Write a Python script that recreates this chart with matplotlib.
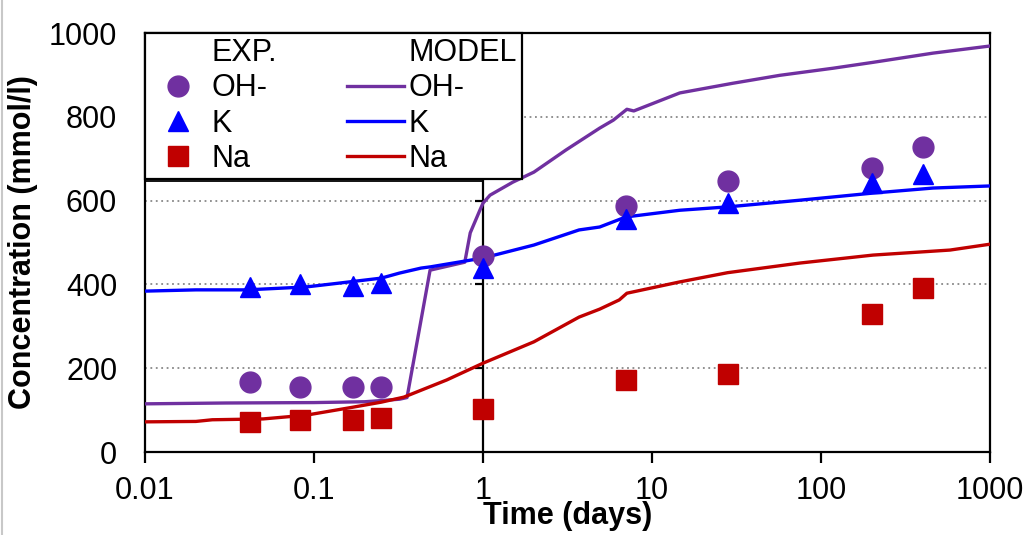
import matplotlib
matplotlib.use('Agg')
import matplotlib.pyplot as plt
import numpy as np
from matplotlib.lines import Line2D

plt.rcParams['font.family'] = ['Liberation Sans', 'DejaVu Sans']

# experimental points (days, mmol/l)
exp_time = [0.042, 0.083, 0.17, 0.25, 1, 7, 28, 200, 400]
exp_oh = [167, 155, 155, 155, 467, 587, 648, 678, 728]
exp_k = [394, 401, 396, 403, 439, 556, 594, 642, 663]
exp_na = [72, 76, 76, 81, 103, 172, 186, 330, 391]

# model curves
mod_oh_t = [0.01, 0.03, 0.1, 0.2, 0.32, 0.355, 0.486, 0.78, 0.84, 0.96, 1.0, 1.1, 1.5, 2.0,
            3.1, 4.9, 5.9, 7.1, 7.8, 14.6, 30, 57, 118, 203, 460, 1000]
mod_oh = [115, 117, 118, 120, 126, 130, 434, 453, 523, 578, 594, 613, 644, 668,
          721, 773, 792, 818, 814, 857, 880, 899, 916, 930, 952, 969]
mod_k_t = [0.01, 0.02, 0.04, 0.09, 0.14, 0.25, 0.32, 0.43, 0.49, 1.0, 2.0, 3.7, 4.9, 7.0,
           14.6, 28, 75, 203, 460, 1000]
mod_k = [384, 387, 387, 394, 403, 415, 427, 439, 442, 463, 494, 530, 537, 561,
         577, 585, 601, 618, 630, 635]
mod_na_t = [0.01, 0.02, 0.025, 0.05, 0.09, 0.17, 0.25, 0.34, 0.61, 1.0, 2.0, 3.7, 4.9, 6.4,
            7.1, 14.6, 28, 75, 203, 580, 1000]
mod_na = [72, 73, 77, 79, 88, 107, 119, 131, 172, 212, 263, 322, 341, 363,
          379, 406, 428, 451, 470, 482, 496]

x_ticks = [0.01, 0.1, 1, 10, 100, 1000]
x_labels = ['0.01', '0.1', '1', '10', '100', '1000']
y_ticks = [0, 200, 400, 600, 800, 1000]
grid_y = [200, 400, 600, 800]
box_y = 647  # stray plot-area frame line under the legend

c_oh = '#7030A0'
c_k = '#0000FF'
c_na = '#C00000'
fs = 22

fig = plt.figure(figsize=(10.3, 5.35), dpi=100)
ax = fig.add_axes([0.1408, 0.1551, 0.8204, 0.7832])

for g in grid_y:
    ax.axhline(g, color='#888888', lw=1.3, ls=(0, (1, 2)), zorder=1)

ax.axvline(1, color='black', lw=1.6, zorder=2)
ax.plot([1] * len(grid_y), grid_y, ls='none', marker=0, ms=6, mew=1.6,
        color='black', zorder=2)
ax.plot([0.01, 1], [box_y, box_y], color='black', lw=1.3, zorder=2)

ax.plot(mod_oh_t, mod_oh, color=c_oh, lw=2.4, zorder=3)
ax.plot(mod_k_t, mod_k, color=c_k, lw=2.4, zorder=3)
ax.plot(mod_na_t, mod_na, color=c_na, lw=2.4, zorder=3)

ax.plot(exp_time, exp_oh, ls='none', marker='o', ms=15, color=c_oh, zorder=4)
ax.plot(exp_time, exp_k, ls='none', marker='^', ms=14, color=c_k, zorder=4)
ax.plot(exp_time, exp_na, ls='none', marker='s', ms=14, color=c_na, zorder=4)

ax.set_xscale('log')
ax.set_xlim(0.01, 1000)
ax.set_ylim(0, 1000)
ax.set_xticks(x_ticks)
ax.set_xticklabels(x_labels)
ax.xaxis.set_minor_locator(matplotlib.ticker.NullLocator())
ax.set_yticks(y_ticks)
ax.tick_params(axis='x', length=8, width=1.6, pad=9, labelsize=fs)
ax.tick_params(axis='y', length=0, pad=20, labelsize=fs)
for s in ax.spines.values():
    s.set_linewidth(1.6)

ax.set_xlabel('Time (days)', fontsize=fs, fontweight='bold', labelpad=-3)
ax.set_ylabel('Concentration (mmol/l)', fontsize=fs, fontweight='bold', labelpad=8)

blank = Line2D([], [], ls='none')
handles = [blank,
           Line2D([], [], ls='none', marker='o', ms=15, color=c_oh),
           Line2D([], [], ls='none', marker='^', ms=14, color=c_k),
           Line2D([], [], ls='none', marker='s', ms=14, color=c_na),
           blank,
           Line2D([], [], color=c_oh, lw=2.4),
           Line2D([], [], color=c_k, lw=2.4),
           Line2D([], [], color=c_na, lw=2.4)]
labels = ['EXP.', 'OH-', 'K', 'Na', 'MODEL', 'OH-', 'K', 'Na']
leg = ax.legend(handles, labels, ncol=2, loc='upper left', bbox_to_anchor=(0, 1),
                borderaxespad=0, fontsize=fs, frameon=True, fancybox=False,
                framealpha=1, handlelength=1.85, handletextpad=0.15,
                columnspacing=2.3, labelspacing=0.17, borderpad=0.17)
leg.get_frame().set_edgecolor('black')
leg.get_frame().set_linewidth(1.6)
leg.set_zorder(5)

fig.add_artist(Line2D([0.002, 0.002], [0, 1], color='#c8c8c8', lw=1.5,
                      transform=fig.transFigure))

plt.savefig('out.png', dpi=100)
